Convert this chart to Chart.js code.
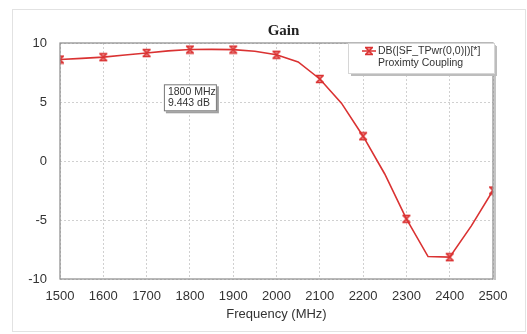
<!DOCTYPE html>
<html>
<head>
<meta charset="utf-8">
<script src="https://cdn.jsdelivr.net/npm/chart.js@4"></script>
<style>
  html, body { margin: 0; padding: 0; background: #fff; }
  #box { width: 527px; height: 334px; position: relative; }
</style>
</head>
<body>
<div id="box"><canvas id="gainChart" width="527" height="334"></canvas></div>
<script>
// frequency (MHz) and gain (dB), simulated every 50 MHz
var freqs = [1500,1550,1600,1650,1700,1750,1800,1850,1900,1950,2000,2050,2100,2150,2200,2250,2300,2350,2400,2450,2500];
var gain  = [8.6,8.7,8.8,8.98,9.15,9.33,9.443,9.46,9.44,9.3,9.0,8.4,6.95,4.9,2.1,-1.1,-4.9,-8.1,-8.15,-5.5,-2.5];
var markerStep = 100; // markers drawn every 100 MHz
var xTicks = [1500,1600,1700,1800,1900,2000,2100,2200,2300,2400,2500];
var yTicks = [-10,-5,0,5,10];
var seriesName = ["DB(|SF_TPwr(0,0)|)[*]", "Proximty Coupling"];
var markerLabel = { freq: 1800, lines: ["1800 MHz", "9.443 dB"] };

var red = 'rgb(218,50,50)';
var sans = '"Liberation Sans", Arial, sans-serif';

// hourglass marker like the one in the original plot
function makeMarker() {
  var c = document.createElement('canvas');
  c.width = 10; c.height = 10;
  var g = c.getContext('2d');
  g.fillStyle = 'rgba(235,80,80,0.55)';
  g.beginPath();
  g.moveTo(1,1); g.lineTo(9,1); g.lineTo(1,9); g.lineTo(9,9); g.closePath();
  g.fill();
  g.strokeStyle = red; g.lineWidth = 1.6;
  g.beginPath();
  g.moveTo(1,1.5); g.lineTo(9,1.5);
  g.moveTo(1,8.5); g.lineTo(9,8.5);
  g.moveTo(1.5,1.5); g.lineTo(8.5,8.5);
  g.moveTo(8.5,1.5); g.lineTo(1.5,8.5);
  g.stroke();
  return c;
}
var marker = makeMarker();

var points = freqs.map(function (f, i) { return { x: f, y: gain[i] }; });

var decor = {
  id: 'decor',
  beforeDraw: function (chart) {
    var c = chart.ctx;
    c.save();
    c.strokeStyle = '#e2e2e2';
    c.lineWidth = 1;
    c.strokeRect(12.5, 9.5, 513, 322);
    c.restore();
  },
  afterDatasetsDraw: function (chart) {
    var c = chart.ctx, a = chart.chartArea;
    var xs = chart.scales.x, ys = chart.scales.y;
    c.save();
    // plot frame with shadow
    c.strokeStyle = '#c4c4c4'; c.lineWidth = 2;
    c.beginPath();
    c.moveTo(a.right + 2, a.top + 2); c.lineTo(a.right + 2, a.bottom + 1);
    c.stroke();
    c.strokeStyle = '#8a8a8a'; c.lineWidth = 1.2;
    c.strokeRect(a.left, a.top, a.right - a.left, a.bottom - a.top);

    // title
    c.fillStyle = '#222';
    c.font = 'bold 15px "Liberation Serif", "DejaVu Serif", serif';
    c.textAlign = 'center'; c.textBaseline = 'alphabetic';
    c.fillText('Gain', (a.left + a.right) / 2 + 7, 35);

    // legend box
    var lx = 348, ly = 43, lw = 146, lh = 30;
    c.fillStyle = '#bdbdbd';
    c.fillRect(lx + 3, ly + 3, lw, lh);
    c.fillStyle = '#fff';
    c.fillRect(lx, ly, lw, lh);
    c.strokeStyle = '#d6d6d6'; c.lineWidth = 1;
    c.strokeRect(lx + 0.5, ly + 0.5, lw, lh);
    c.strokeStyle = red; c.lineWidth = 1.5;
    c.beginPath(); c.moveTo(362, 51); c.lineTo(376, 51); c.stroke();
    c.drawImage(marker, 364, 46);
    c.fillStyle = '#333';
    c.font = '10.5px ' + sans;
    c.textAlign = 'left'; c.textBaseline = 'middle';
    c.fillText(seriesName[0], 378, 51);
    c.fillText(seriesName[1], 378, 63);

    // marker readout box
    var cx = xs.getPixelForValue(markerLabel.freq);
    var bx = cx - 26, by = ys.getPixelForValue(6.5), bw = 53, bh = 27;
    c.fillStyle = '#a0a0a0';
    c.fillRect(bx + 2, by + 2, bw, bh);
    c.fillStyle = '#fff';
    c.fillRect(bx, by, bw, bh);
    c.strokeStyle = '#777'; c.lineWidth = 1;
    c.strokeRect(bx + 0.5, by + 0.5, bw - 1, bh - 1);
    c.fillStyle = '#333';
    c.font = '10.5px ' + sans;
    c.fillText(markerLabel.lines[0], bx + 4, by + 8);
    c.fillText(markerLabel.lines[1], bx + 4, by + 19);
    c.restore();
  }
};

var ctx = document.getElementById('gainChart').getContext('2d');
var chart = new Chart(ctx, {
  type: 'line',
  data: {
    datasets: [{
      label: seriesName.join(' '),
      data: points,
      borderColor: red,
      backgroundColor: red,
      borderWidth: 1.6,
      tension: 0,
      clip: 0,
      pointStyle: marker,
      pointRadius: function (c) { return (c.raw && c.raw.x % markerStep === 0) ? 5 : 0; },
      pointHoverRadius: 0
    }]
  },
  options: {
    responsive: false,
    animation: false,
    events: [],
    layout: { padding: { top: 43, right: 34, left: 0, bottom: 0 } },
    plugins: { legend: { display: false }, tooltip: { enabled: false }, title: { display: false } },
    scales: {
      x: {
        type: 'linear', min: 1500, max: 2500,
        afterFit: function (s) { s.height = 55; },
        afterBuildTicks: function (s) { s.ticks = xTicks.map(function (v) { return { value: v }; }); },
        grid: { color: '#d0d0d0', lineWidth: 1, drawTicks: false },
        border: { display: false, dash: [2, 2] },
        ticks: { color: '#333', padding: 10, maxRotation: 0, font: { family: sans, size: 13 },
                 callback: function (v) { return String(v); } },
        title: { display: true, text: 'Frequency (MHz)', color: '#333', padding: { top: 0, bottom: 12 }, font: { family: sans, size: 13 } }
      },
      y: {
        min: -10, max: 10,
        afterFit: function (s) { s.width = 60; },
        afterBuildTicks: function (s) { s.ticks = yTicks.map(function (v) { return { value: v }; }); },
        grid: { color: '#d0d0d0', lineWidth: 1, drawTicks: false },
        border: { display: false, dash: [2, 2] },
        ticks: { color: '#333', padding: 13, font: { family: sans, size: 13 },
                 callback: function (v) { return String(v); } }
      }
    }
  },
  plugins: [decor]
});
</script>
</body>
</html>
